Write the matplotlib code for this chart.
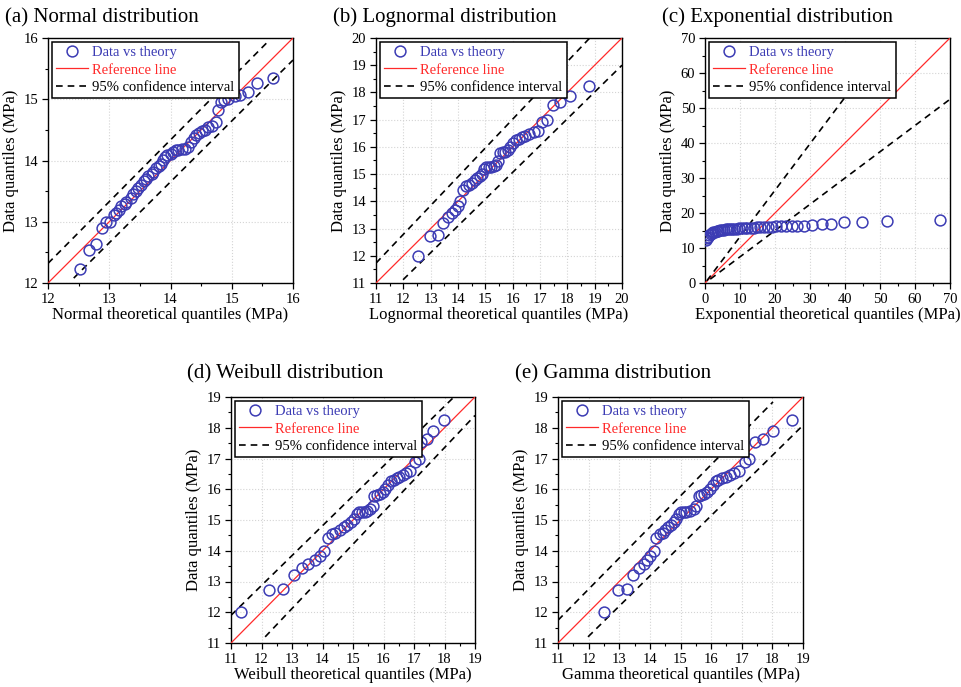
import numpy as np
import matplotlib
matplotlib.use("Agg")
import matplotlib.pyplot as plt
from matplotlib.ticker import MultipleLocator

plt.rcParams['font.family'] = ['Liberation Serif', 'DejaVu Serif']
plt.rcParams['mathtext.fontset'] = 'stix'

# ---- data ----
# (a) normal
norm_x = [12.52, 12.67, 12.78, 12.88, 12.95, 13.01, 13.07, 13.11, 13.16, 13.20,
          13.25, 13.28, 13.35, 13.39, 13.43, 13.47, 13.52, 13.56, 13.60, 13.64,
          13.69, 13.72, 13.77, 13.81, 13.84, 13.88, 13.91, 13.95, 14.00, 14.04,
          14.09, 14.13, 14.18, 14.24, 14.29, 14.34, 14.38, 14.41, 14.46, 14.52,
          14.56, 14.61, 14.68, 14.74, 14.77, 14.83, 14.88, 14.94, 15.06, 15.14,
          15.26, 15.41, 15.67]
norm_y = [12.23, 12.54, 12.64, 12.90, 12.99, 12.99, 13.11, 13.14, 13.19, 13.25,
          13.29, 13.33, 13.38, 13.46, 13.51, 13.55, 13.60, 13.66, 13.70, 13.74,
          13.78, 13.82, 13.87, 13.91, 13.95, 14.01, 14.05, 14.09, 14.11, 14.14,
          14.17, 14.17, 14.18, 14.18, 14.22, 14.31, 14.36, 14.41, 14.45, 14.48,
          14.50, 14.55, 14.56, 14.63, 14.82, 14.96, 14.99, 15.01, 15.06, 15.07,
          15.12, 15.27, 15.34]

# sample quantiles shared by (b), (d), (e)
data_y = [12.00, 12.71, 12.76, 13.20, 13.44, 13.58, 13.69, 13.84, 14.00, 14.40,
          14.56, 14.59, 14.67, 14.78, 14.84, 14.92, 15.02, 15.18, 15.25, 15.26,
          15.27, 15.30, 15.35, 15.47, 15.79, 15.80, 15.83, 15.90, 16.00, 16.15,
          16.26, 16.30, 16.35, 16.41, 16.46, 16.54, 16.60, 16.90, 17.00, 17.53,
          17.65, 17.88, 18.24]

logn_x = [12.52, 12.96, 13.26, 13.45, 13.63, 13.78, 13.90, 13.99, 14.09, 14.18,
          14.29, 14.41, 14.51, 14.61, 14.70, 14.79, 14.88, 14.96, 15.04, 15.12,
          15.21, 15.30, 15.40, 15.46, 15.55, 15.65, 15.73, 15.83, 15.91, 16.01,
          16.11, 16.22, 16.34, 16.46, 16.59, 16.77, 16.93, 17.07, 17.26, 17.46,
          17.74, 18.11, 18.78]

weib_x = [11.33, 12.23, 12.72, 13.05, 13.32, 13.54, 13.76, 13.93, 14.06, 14.17,
          14.31, 14.42, 14.56, 14.69, 14.80, 14.93, 15.04, 15.13, 15.20, 15.29,
          15.38, 15.45, 15.56, 15.65, 15.69, 15.80, 15.89, 15.98, 16.05, 16.16,
          16.24, 16.33, 16.44, 16.52, 16.63, 16.74, 16.87, 17.02, 17.15, 17.23,
          17.42, 17.62, 17.97]

gamma_x = [12.49, 12.96, 13.25, 13.45, 13.64, 13.80, 13.92, 14.02, 14.12, 14.21,
           14.32, 14.43, 14.51, 14.59, 14.68, 14.78, 14.86, 14.94, 15.03, 15.11,
           15.19, 15.32, 15.44, 15.52, 15.60, 15.68, 15.77, 15.86, 15.97, 16.06,
           16.15, 16.24, 16.36, 16.47, 16.60, 16.75, 16.91, 17.09, 17.24, 17.44,
           17.69, 18.02, 18.65]

# (c) exponential
expo_x = [0.15, 0.5, 0.8, 1.2, 1.6, 2.0, 2.4, 2.8, 3.3, 3.8,
          4.3, 4.8, 5.3, 5.9, 6.5, 7.1, 7.7, 8.4, 9.1, 9.8,
          10.5, 11.3, 12.1, 13.0, 13.9, 14.8, 15.8, 16.8, 17.9, 19.1,
          20.4, 21.7, 23.2, 24.8, 26.4, 28.4, 30.7, 33.3, 36.0, 39.8,
          44.8, 52.1, 67.0]
expo_y = [12.2, 12.8, 13.2, 13.6, 13.9, 14.2, 14.5, 14.7, 14.85, 15.0,
          15.1, 15.2, 15.25, 15.3, 15.35, 15.4, 15.45, 15.5, 15.55, 15.6,
          15.65, 15.7, 15.75, 15.8, 15.85, 15.9, 15.95, 16.0, 16.05, 16.1,
          16.15, 16.2, 16.25, 16.3, 16.35, 16.4, 16.5, 16.8, 16.9, 17.3,
          17.55, 17.75, 18.0]

# confidence bounds (end points) : ([x0, x1], [y0, y1])
ci = {
    'a': (([12.0, 15.58], [12.32, 15.93]), ([12.42, 16.0], [12.08, 15.64])),
    'b': (([11.0, 18.82], [11.73, 20.0]), ([11.99, 20.0], [11.12, 19.0])),
    'c': (([0.5, 52.0], [0.6, 69.0]), ([1.5, 70.0], [1.1, 52.5])),
    'd': (([11.0, 18.31], [11.9, 19.0]), ([12.12, 19.0], [11.2, 18.4])),
    'e': (([11.0, 18.02], [11.74, 18.84]), ([11.98, 19.0], [11.2, 18.08])),
}

titles = ['(a) Normal distribution', '(b) Lognormal distribution',
          '(c) Exponential distribution', '(d) Weibull distribution',
          '(e) Gamma distribution']
xlabels = ['Normal theoretical quantiles (MPa)', 'Lognormal theoretical quantiles (MPa)',
           'Exponential theoretical quantiles (MPa)', 'Weibull theoretical quantiles (MPa)',
           'Gamma theoretical quantiles (MPa)']
limits = [(12, 16), (11, 20), (0, 70), (11, 19), (11, 19)]
steps = [(1, 0.5), (1, 0.5), (10, 5), (1, 0.5), (1, 0.5)]

# axes boxes in pixels: left, top, right, bottom
W, H = 961, 687
boxes = [(48, 38, 293, 283), (376, 38, 622, 283), (705, 38, 950, 283),
         (231, 397, 475, 643), (558, 397, 803, 643)]
title_pos = [(5, 22), (333, 22), (662, 22), (187, 378), (515, 378)]

blue = '#3c3cb4'
red = '#ff2a2a'

fig = plt.figure(figsize=(W / 100, H / 100), dpi=100)

series = [(norm_x, norm_y), (logn_x, data_y), (expo_x, expo_y),
          (weib_x, data_y), (gamma_x, data_y)]

for i, key in enumerate(['a', 'b', 'c', 'd', 'e']):
    l, t, r, b = boxes[i]
    ax = fig.add_axes([l / W, 1 - b / H, (r - l) / W, (b - t) / H])
    lo, hi = limits[i]
    xs, ys = series[i]

    ax.grid(True, color='#d4d4d4', linestyle=':', linewidth=0.8)
    ax.set_axisbelow(True)

    ax.plot(xs, ys, 'o', mfc='none', mec=blue, mew=1.1, ms=7.8,
            label='Data vs theory', zorder=4)
    ax.plot([lo, hi], [lo, hi], color=red, lw=0.9, label='Reference line', zorder=3)
    up, dn = ci[key]
    ax.plot(up[0], up[1], color='black', ls=(0, (4, 3)), lw=1.2,
            label='95% confidence interval', zorder=3)
    ax.plot(dn[0], dn[1], color='black', ls=(0, (4, 3)), lw=1.2, zorder=3)

    ax.set_xlim(lo, hi)
    ax.set_ylim(lo, hi)
    major, minor = steps[i]
    for a in (ax.xaxis, ax.yaxis):
        a.set_major_locator(MultipleLocator(major))
        a.set_minor_locator(MultipleLocator(minor))
    ax.tick_params(which='major', direction='out', length=4, width=0.9,
                   labelsize=10.5, pad=3)
    ax.tick_params(which='minor', direction='out', length=2.5, width=0.8)
    for s in ax.spines.values():
        s.set_linewidth(1.0)

    ax.set_xlabel(xlabels[i], fontsize=12, labelpad=1)
    ax.set_ylabel('Data quantiles (MPa)', fontsize=12, labelpad=3)

    leg = ax.legend(loc='upper left', bbox_to_anchor=(0.0, 1.0), fontsize=10.5,
                    frameon=True, fancybox=False, edgecolor='black', framealpha=1,
                    borderpad=0.3, labelspacing=0.28, handlelength=2.2,
                    handletextpad=0.3, borderaxespad=0.25)
    leg.get_frame().set_linewidth(1.1)
    for txt, c in zip(leg.get_texts(), [blue, red, 'black']):
        txt.set_color(c)

    tx, ty = title_pos[i]
    fig.text(tx / W, 1 - ty / H, titles[i], fontsize=15, ha='left', va='baseline')

fig.savefig('out.png', dpi=100)
